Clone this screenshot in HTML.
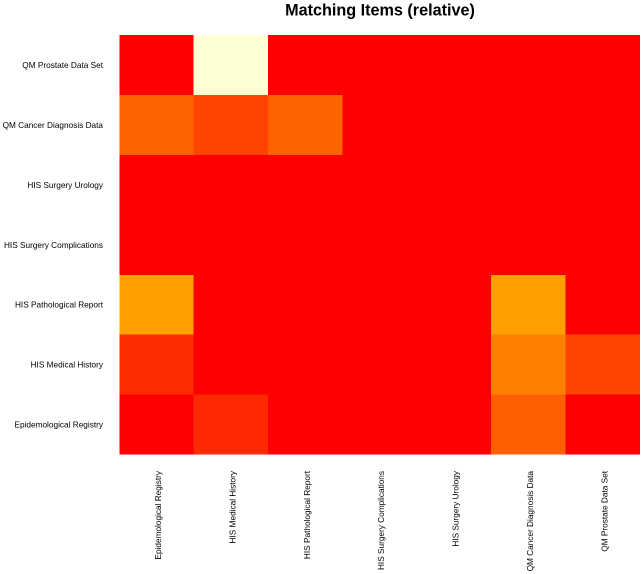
<!DOCTYPE html>
<html>
<head>
<meta charset="utf-8">
<title>Matching Items (relative)</title>
<style>
html,body{margin:0;padding:0;background:#fff;width:644px;height:574px;overflow:hidden}
svg{display:block}
text{font-family:"Liberation Sans",sans-serif;fill:#000}
</style>
</head>
<body>
<svg id="chart" width="644" height="574" viewBox="0 0 644 574" xmlns="http://www.w3.org/2000/svg">
<text x="380" y="15.5" text-anchor="middle" font-size="16.2" font-weight="bold">Matching Items (relative)</text>
<g id="cells"></g>
<g id="row-labels"></g>
<g id="col-labels"></g>
</svg>
<script>
const columns = ["Epidemological Registry","HIS Medical History","HIS Pathological Report","HIS Surgery Complications","HIS Surgery Urology","QM Cancer Diagnosis Data","QM Prostate Data Set"];
const rows = ["QM Prostate Data Set","QM Cancer Diagnosis Data","HIS Surgery Urology","HIS Surgery Complications","HIS Pathological Report","HIS Medical History","Epidemological Registry"];
const matrixRow1 = [0,1,0,0,0,0,0];
const matrixRow2 = [0.29,0.2,0.29,0,0,0,0];
const matrixRow3 = [0,0,0,0,0,0,0];
const matrixRow4 = [0,0,0,0,0,0,0];
const matrixRow5 = [0.47,0,0,0,0,0.47,0];
const matrixRow6 = [0.13,0,0,0,0,0.375,0.2];
const matrixRow7 = [0,0.12,0,0,0,0.28,0];
const matrix = [matrixRow1,matrixRow2,matrixRow3,matrixRow4,matrixRow5,matrixRow6,matrixRow7];

const NS = "http://www.w3.org/2000/svg";
const plotLeft = 119.3, plotRight = 640, plotTop = 35, plotBottom = 454.6;

function xScale(i){ return plotLeft + i * (plotRight - plotLeft) / columns.length; }
function yScale(j){ return plotTop + j * (plotBottom - plotTop) / rows.length; }
function heatColor(v){
  if (v <= 0.75) {
    return "rgb(255," + Math.round(v / 0.75 * 255) + ",0)";
  }
  return "rgb(255,255," + Math.round((v - 0.75) / 0.25 * 213) + ")";
}

const cellsGroup = document.getElementById("cells");
const rowGroup = document.getElementById("row-labels");
const colGroup = document.getElementById("col-labels");

matrix.forEach(function(rowValues, j){
  rowValues.forEach(function(v, i){
    const r = document.createElementNS(NS, "rect");
    r.setAttribute("x", xScale(i));
    r.setAttribute("y", yScale(j));
    r.setAttribute("width", xScale(i + 1) - xScale(i));
    r.setAttribute("height", yScale(j + 1) - yScale(j));
    r.setAttribute("fill", heatColor(v));
    r.setAttribute("shape-rendering", "crispEdges");
    
    
    cellsGroup.appendChild(r);
  });
});

rows.forEach(function(label, j){
  const t = document.createElementNS(NS, "text");
  t.setAttribute("x", 103);
  t.setAttribute("y", (yScale(j) + yScale(j + 1)) / 2 + 3);
  t.setAttribute("text-anchor", "end");
  t.setAttribute("font-size", "8.25");
  t.textContent = label;
  
  
  rowGroup.appendChild(t);
});

columns.forEach(function(label, i){
  const t = document.createElementNS(NS, "text");
  const cx = (xScale(i) + xScale(i + 1)) / 2 + 4.5;
  t.setAttribute("transform", "translate(" + cx + ",471) rotate(-90)");
  t.setAttribute("text-anchor", "end");
  t.setAttribute("font-size", "8.25");
  t.textContent = label;
  
  
  colGroup.appendChild(t);
});
</script>
</body>
</html>
